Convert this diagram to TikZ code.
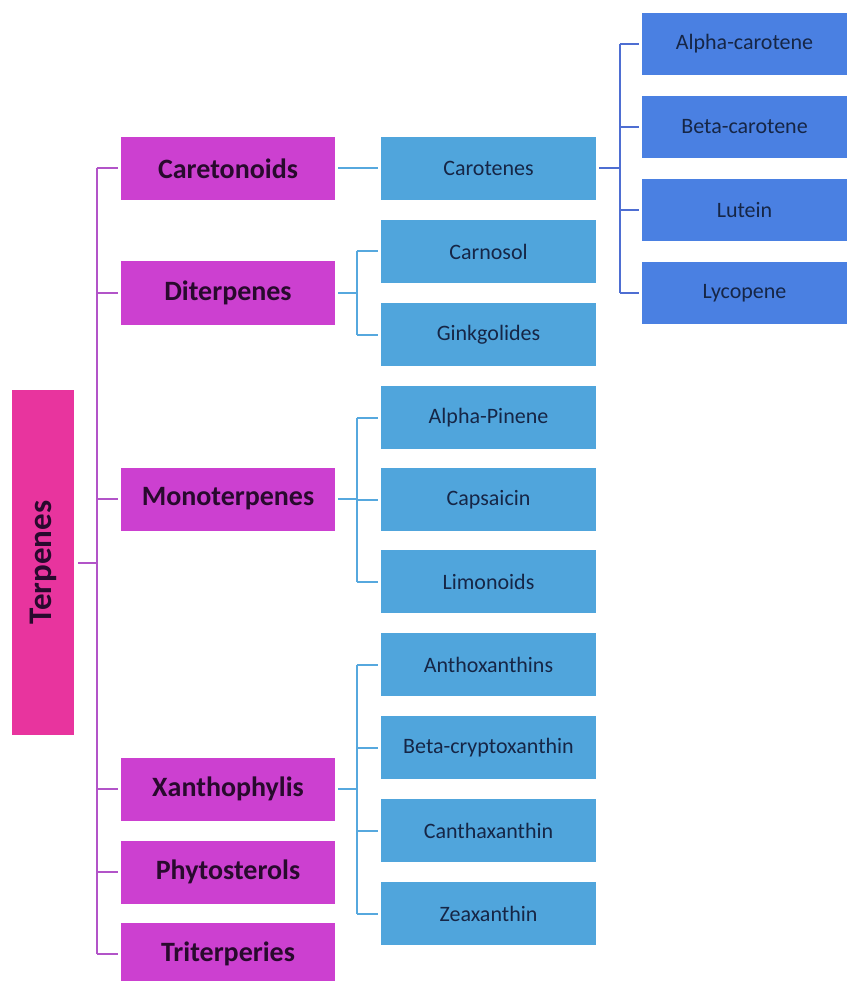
\documentclass[tikz,border=0pt]{standalone}
\usepackage{fontspec}
\setmainfont{Carlito}
\definecolor{terp}{RGB}{232,52,158}
\definecolor{mag}{RGB}{204,64,208}
\definecolor{lblue}{RGB}{80,165,220}
\definecolor{rblue}{RGB}{74,128,226}
\definecolor{magline}{RGB}{178,84,200}
\definecolor{bline}{RGB}{86,168,222}
\definecolor{rline}{RGB}{78,110,210}
\definecolor{dtext}{RGB}{40,10,45}
\definecolor{ntext}{RGB}{22,38,70}
\tikzset{
  lone/.style={fill=mag, minimum width=214pt, minimum height=63pt, inner sep=0pt, text=dtext, font=\fontsize{28}{32}\selectfont\bfseries},
  ltwo/.style={fill=lblue, minimum width=215pt, minimum height=63pt, inner sep=0pt, text=ntext, font=\fontsize{22}{26}\selectfont},
  lthree/.style={fill=rblue, minimum width=205pt, minimum height=62pt, inner sep=0pt, text=ntext, font=\fontsize{22}{26}\selectfont},
  mline/.style={draw=magline, line width=2pt},
  bl/.style={draw=bline, line width=2pt},
  rl/.style={draw=rline, line width=2pt}
}
\begin{document}
\begin{tikzpicture}[x=1pt,y=-1pt]
\useasboundingbox[fill=white] (0,0) rectangle (847,981);
\begin{scope}
\clip (0,0) rectangle (847,981);
% root
\node[fill=terp, minimum width=62pt, minimum height=345pt, inner sep=0pt] (terp) at (43,562.5) {};
\node[rotate=90, text=dtext, font=\fontsize{33}{36}\selectfont\bfseries] (terpt) at (43,562.5) {Terpenes};
% level 1
\node[lone] (car) at (228,168.5) {Caretonoids};
\node[lone] (dit) at (228,293) {Diterpenes};
\node[lone] (mon) at (228,499) {Monoterpenes};
\node[lone] (xan) at (228,789) {Xanthophylis};
\node[lone] (phy) at (228,872) {Phytosterols};
\node[lone] (tri) at (228,954) {Triterperies};
% level 2
\node[ltwo] (crt) at (488.5,168.5) {Carotenes};
\node[ltwo] (cns) at (488.5,251.5) {Carnosol};
\node[ltwo] (gin) at (488.5,334.5) {Ginkgolides};
\node[ltwo] (alp) at (488.5,417.5) {Alpha-Pinene};
\node[ltwo] (cap) at (488.5,499.5) {Capsaicin};
\node[ltwo] (lim) at (488.5,581.5) {Limonoids};
\node[ltwo] (ant) at (488.5,664.5) {Anthoxanthins};
\node[ltwo] (bcr) at (488.5,747.5) {Beta-cryptoxanthin};
\node[ltwo] (cth) at (488.5,830.5) {Canthaxanthin};
\node[ltwo] (zea) at (488.5,913.5) {Zeaxanthin};
% level 3
\node[lthree] (ac) at (744.5,44) {Alpha-carotene};
\node[lthree] (bc) at (744.5,127) {Beta-carotene};
\node[lthree] (lut) at (744.5,210) {Lutein};
\node[lthree] (lyc) at (744.5,293) {Lycopene};
% trunk
\coordinate (tk) at (97,562.5);
\draw[mline] ([xshift=4pt]terp.east) -- (tk);
\draw[mline] ([xshift=-24pt]car.west) -- ([xshift=-24pt]tri.west);
\foreach \n in {car,dit,mon,xan,phy,tri}{
  \draw[mline] ([xshift=-24pt]\n.west) -- ([xshift=-3pt]\n.west);
}
% level 1 -> level 2
\draw[bl] ([xshift=3pt]car.east) -- ([xshift=-3pt]crt.west);
\draw[bl] ([xshift=3pt]dit.east) -- ([xshift=22pt]dit.east);
\draw[bl] ([xshift=-24pt]cns.west) -- ([xshift=-24pt]gin.west);
\foreach \n in {cns,gin}{\draw[bl] ([xshift=-24pt]\n.west) -- ([xshift=-3pt]\n.west);}
\draw[bl] ([xshift=3pt]mon.east) -- ([xshift=22pt]mon.east);
\draw[bl] ([xshift=-24pt]alp.west) -- ([xshift=-24pt]lim.west);
\foreach \n in {alp,cap,lim}{\draw[bl] ([xshift=-24pt]\n.west) -- ([xshift=-3pt]\n.west);}
\draw[bl] ([xshift=3pt]xan.east) -- ([xshift=22pt]xan.east);
\draw[bl] ([xshift=-24pt]ant.west) -- ([xshift=-24pt]zea.west);
\foreach \n in {ant,bcr,cth,zea}{\draw[bl] ([xshift=-24pt]\n.west) -- ([xshift=-3pt]\n.west);}
% level 2 -> level 3
\draw[rl] ([xshift=3pt]crt.east) -- ([xshift=23pt]crt.east);
\draw[rl] ([xshift=-22pt]ac.west) -- ([xshift=-22pt]lyc.west);
\foreach \n in {ac,bc,lut,lyc}{\draw[rl] ([xshift=-22pt]\n.west) -- ([xshift=-3pt]\n.west);}
\end{scope}
\end{tikzpicture}
\end{document}
